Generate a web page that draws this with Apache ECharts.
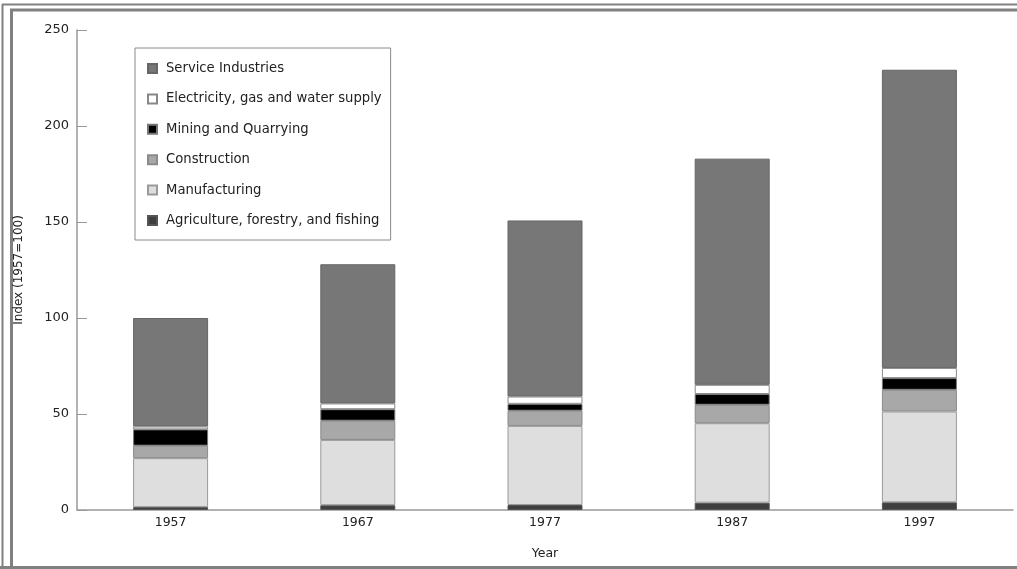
<!DOCTYPE html>
<html>
<head>
<meta charset="utf-8">
<script src="https://cdn.jsdelivr.net/npm/echarts@6/dist/echarts.min.js"></script>
<style>
html,body{margin:0;padding:0;background:#fff;}
#c{width:1017px;height:569px;}
</style>
</head>
<body>
<div id="c"></div>
<script>
const years = ['1957','1967','1977','1987','1997'];
const agriculture = [1.5, 2.5, 2.6, 3.8, 4.0];
const manufacturing = [25.5, 34.0, 41.2, 41.4, 47.3];
const construction = [6.5, 10.0, 7.9, 9.6, 11.3];
const mining = [8.5, 6.0, 3.6, 5.6, 6.1];
const electricity = [1.5, 3.0, 3.8, 4.8, 5.3];
const services = [56.5, 72.5, 91.7, 117.8, 155.3];
const yTicks = [0, 50, 100, 150, 200, 250];

const seriesDefs = [
  {name:'Agriculture, forestry, and fishing', data:agriculture, color:'#3f3f3f', border:'#555'},
  {name:'Manufacturing', data:manufacturing, color:'#dedede', border:'#9a9a9a'},
  {name:'Construction', data:construction, color:'#a8a8a8', border:'#8a8a8a'},
  {name:'Mining and Quarrying', data:mining, color:'#000000', border:'#777'},
  {name:'Electricity, gas and water supply', data:electricity, color:'#ffffff', border:'#888'},
  {name:'Service Industries', data:services, color:'#777777', border:'#666'}
];

const font = '"DejaVu Sans", "Liberation Sans", Arial, sans-serif';
const chart = echarts.init(document.getElementById('c'));
chart.setOption({
  animation:false,
  textStyle:{fontFamily:font},
  graphic:[
    {type:'line', shape:{x1:2.5,y1:4,x2:2.5,y2:569}, style:{stroke:'#808080', lineWidth:2}},
    {type:'line', shape:{x1:2,y1:4.5,x2:1017,y2:4.5}, style:{stroke:'#808080', lineWidth:2}},
    {type:'line', shape:{x1:11.5,y1:9,x2:11.5,y2:569}, style:{stroke:'#808080', lineWidth:3}},
    {type:'line', shape:{x1:10,y1:10,x2:1017,y2:10}, style:{stroke:'#808080', lineWidth:3}},
    {type:'line', shape:{x1:0,y1:567.5,x2:1017,y2:567.5}, style:{stroke:'#808080', lineWidth:3}}
  ],
  grid:{left:77, right:4, top:30, bottom:59},
  legend:{
    orient:'vertical', left:135, top:48,
    data: seriesDefs.map(s=>s.name).reverse(),
    itemWidth:9, itemHeight:9, itemGap:17.4,
    padding:[14,9,13,12],
    borderColor:'#8a8a8a', borderWidth:1, backgroundColor:'#fff',
    textStyle:{fontSize:13.2, color:'#222', fontFamily:font, padding:[0,0,0,4]},
    icon:'rect'
  },
  xAxis:{
    type:'category', data:years,
    name:'Year', nameLocation:'middle', nameGap:37,
    nameTextStyle:{fontSize:12.5, color:'#222', fontFamily:font},
    axisLine:{lineStyle:{color:'#999', width:1.5}},
    axisTick:{inside:true, length:8, lineStyle:{color:'#999'}},
    axisLabel:{fontSize:12.5, color:'#222', margin:6, fontFamily:font}
  },
  yAxis:{
    type:'value', min:0, max:250, interval:50,
    name:'Index (1957=100)', nameLocation:'middle', nameGap:52, nameRotate:90,
    nameTextStyle:{fontSize:12, color:'#222', fontFamily:font},
    axisLine:{show:true, lineStyle:{color:'#999', width:1.5}},
    axisTick:{show:true, inside:true, length:10, lineStyle:{color:'#999'}},
    axisLabel:{fontSize:13, color:'#222', margin:8, fontFamily:font, formatter:v=>yTicks.includes(v)?String(v):''},
    splitLine:{show:false}
  },
  series: seriesDefs.map(s=>({
    name:s.name, type:'bar', stack:'total', data:s.data, barWidth:75,
    itemStyle:{color:s.color, borderColor:s.border, borderWidth:1}
  }))
});
</script>
</body>
</html>
